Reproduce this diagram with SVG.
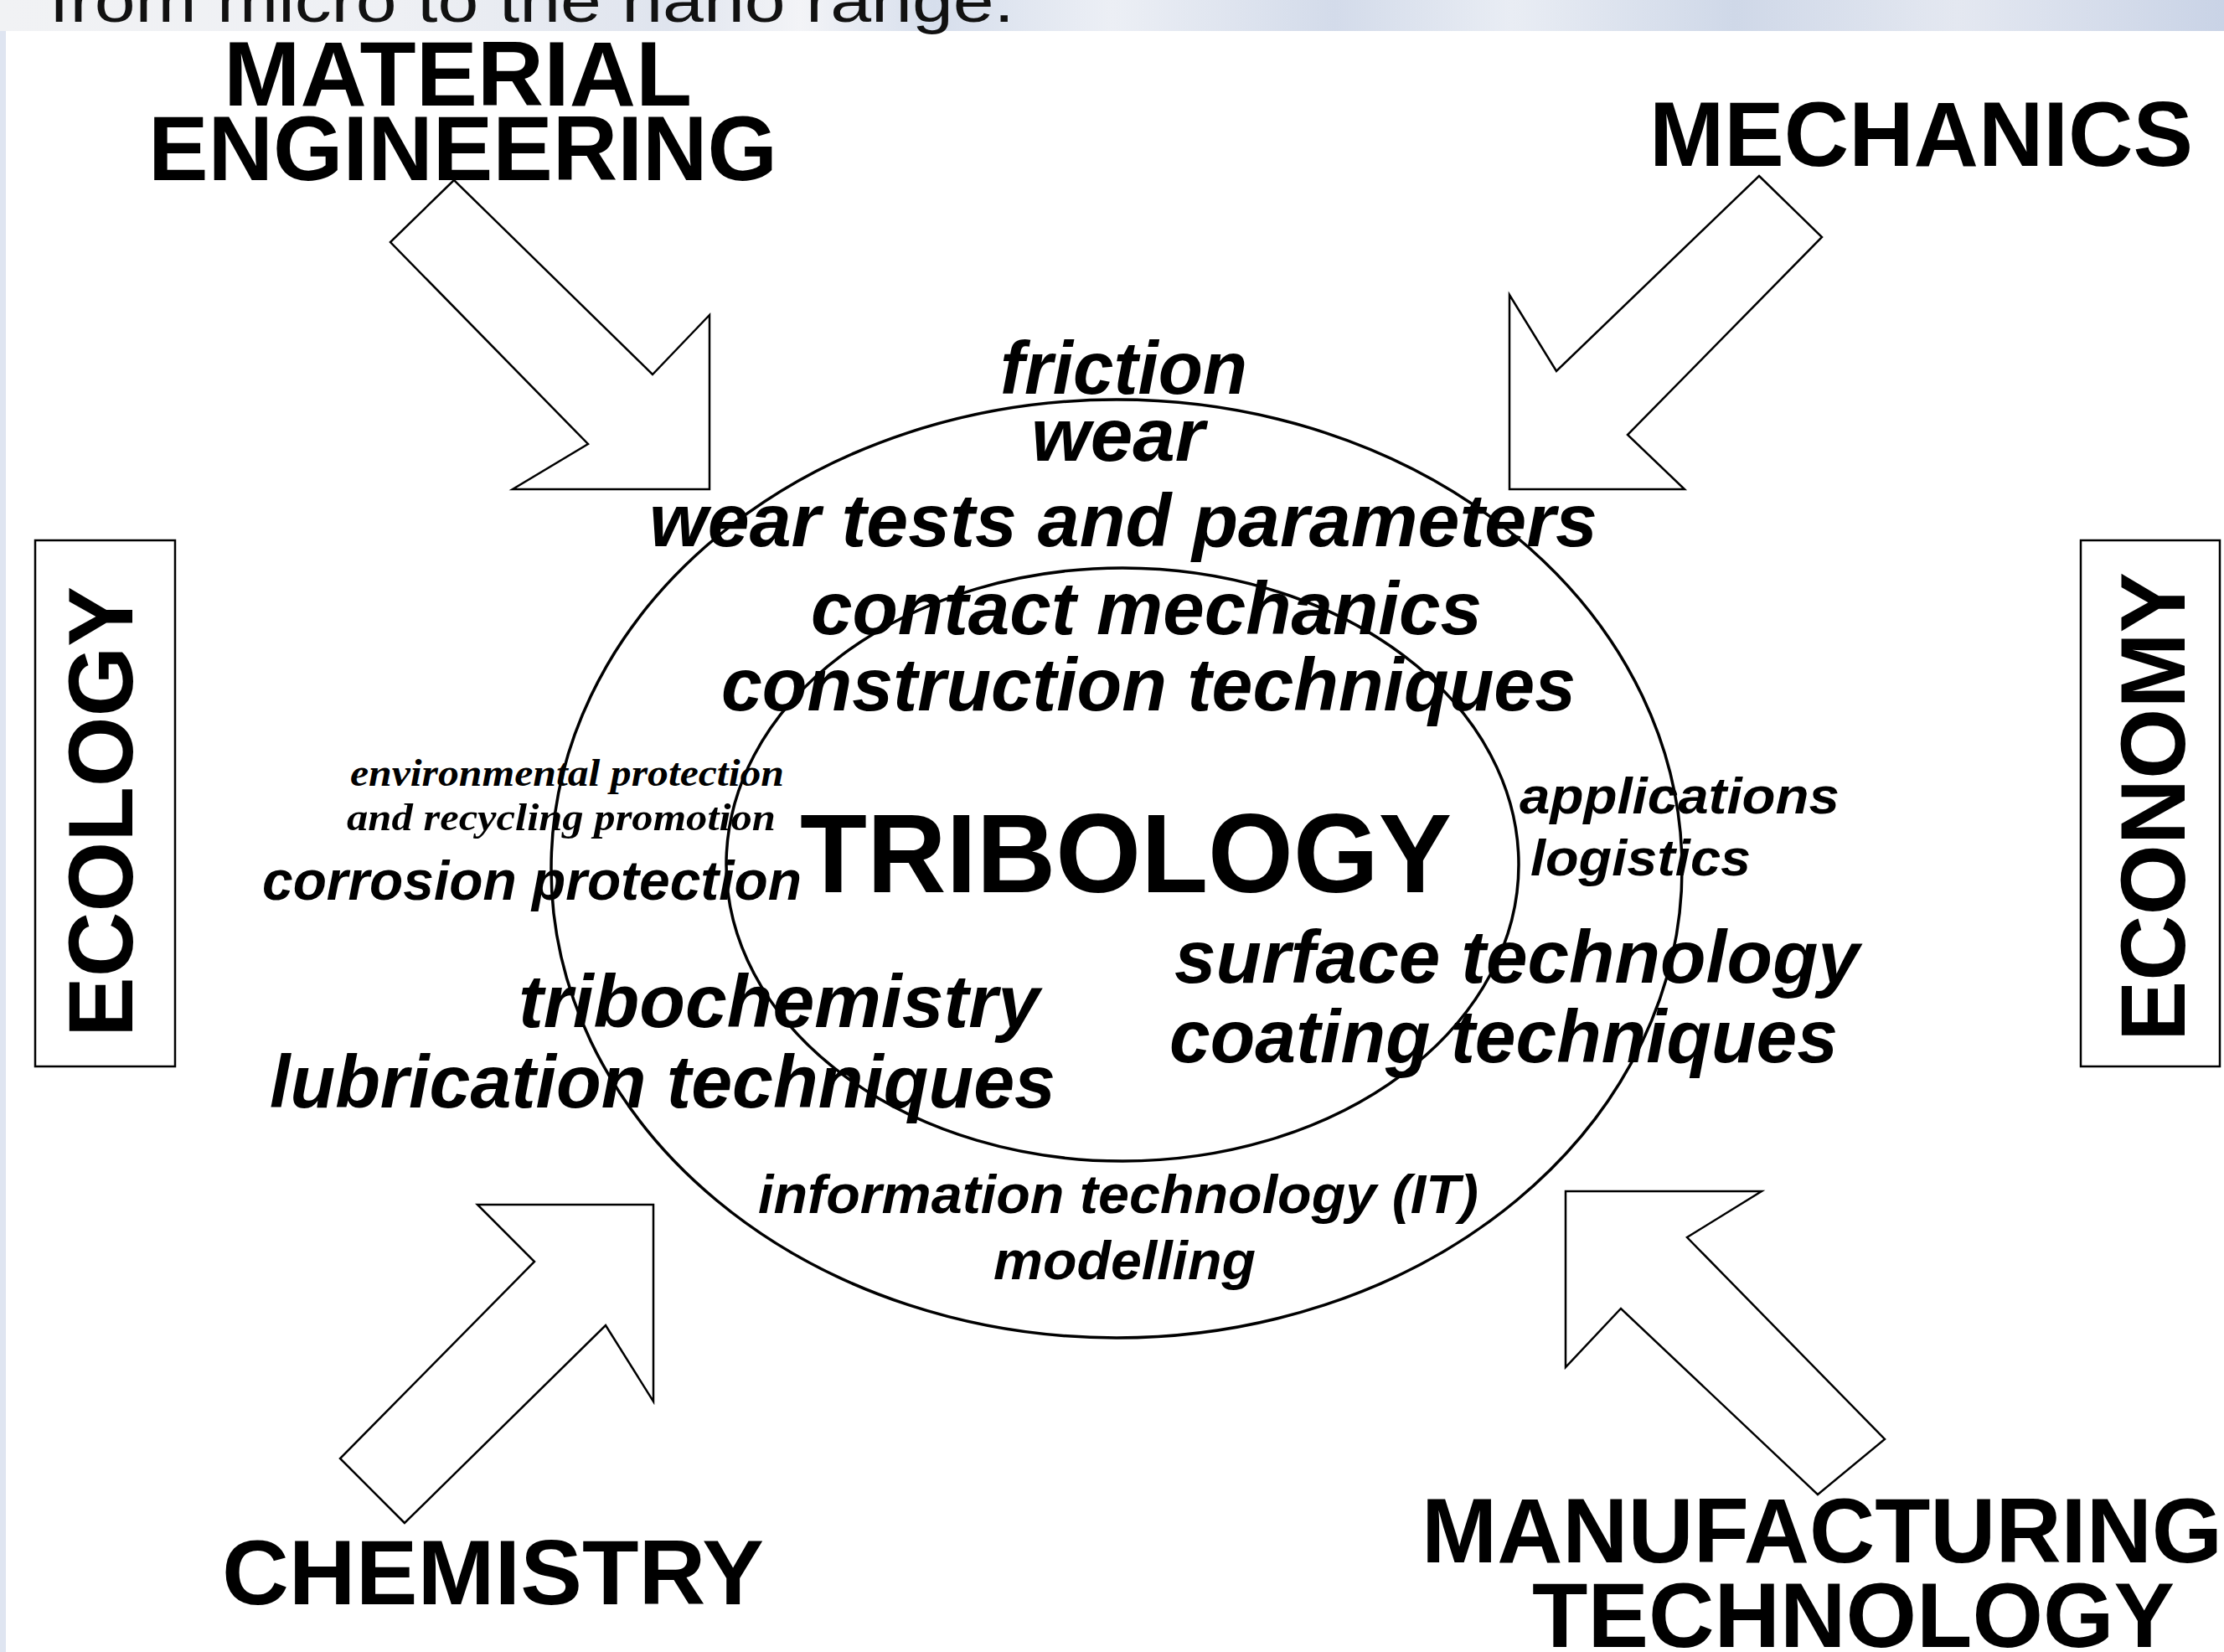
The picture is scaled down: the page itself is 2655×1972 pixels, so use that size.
<svg xmlns="http://www.w3.org/2000/svg" width="2655" height="1972" viewBox="0 0 2655 1972">
  <defs>
    <linearGradient id="banner" x1="0" y1="0" x2="1" y2="0">
      <stop offset="0" stop-color="#f1f2f4"/>
      <stop offset="0.18" stop-color="#eef0f4"/>
      <stop offset="0.3" stop-color="#dfe4ee"/>
      <stop offset="0.36" stop-color="#f3f4f7"/>
      <stop offset="0.42" stop-color="#d6deec"/>
      <stop offset="0.5" stop-color="#eceff5"/>
      <stop offset="0.6" stop-color="#d3dbea"/>
      <stop offset="0.68" stop-color="#e9edf4"/>
      <stop offset="0.78" stop-color="#cfd8e8"/>
      <stop offset="0.88" stop-color="#e4e8f1"/>
      <stop offset="1" stop-color="#c9d3e6"/>
    </linearGradient>
    <style>
      .cap { font-family: "Liberation Sans", Arial, sans-serif; font-weight: bold; font-size: 110px; fill: #000; }
      .it { font-family: "Liberation Sans", Arial, sans-serif; font-weight: bold; font-style: italic; font-size: 89px; fill: #000; }
      .sm { font-family: "Liberation Serif", "Times New Roman", serif; font-weight: bold; font-style: italic; font-size: 46px; fill: #000; }
      .box { fill: #fff; stroke: #000; stroke-width: 2.5; }
      .arrow { fill: #fff; stroke: #000; stroke-width: 2.5; stroke-linejoin: miter; }
      .ring { fill: none; stroke: #000; stroke-width: 3.5; }
      .banner-text { font-family: "Liberation Sans Narrow", "Liberation Sans", Arial, sans-serif; font-size: 72px; fill: #111; }
    </style>
  </defs>

  <rect x="0" y="0" width="2655" height="1972" fill="#ffffff"/>

  <!-- slide banner (cut off) -->
  <g id="banner-strip">
    <rect x="0" y="0" width="2655" height="37" fill="url(#banner)"/>
    <text class="banner-text" x="59" y="26" textLength="1152" lengthAdjust="spacingAndGlyphs">from micro to the nano range.</text>
  </g>
  <rect x="0" y="37" width="7" height="1935" fill="#dfe5f1"/>

  <!-- connectors: block arrows -->
  <g id="connectors">
    <polygon id="arrow-material" class="arrow" points="542,215 466,289 702,530 612,584 847,584 847,376 779,447"/>
    <polygon id="arrow-mechanics" class="arrow" points="2100,210 2175,283 1943,519 2011,584 1802,584 1802,352 1858,443"/>
    <polygon id="arrow-chemistry" class="arrow" points="483,1818 406,1741 638,1506 570,1438 780,1438 780,1673 723,1582"/>
    <polygon id="arrow-manufacturing" class="arrow" points="1869,1422 2103,1422 2014,1477 2250,1718 2170,1784 1935,1562 1869,1632"/>
  </g>

  <!-- central tribology node -->
  <g id="tribology">
    <ellipse class="ring" cx="1333" cy="1037" rx="675" ry="560"/>
    <ellipse class="ring" cx="1340" cy="1032" rx="473" ry="354"/>
    <text class="cap" x="955" y="1065" style="font-size:133px" textLength="778" lengthAdjust="spacingAndGlyphs">TRIBOLOGY</text>
  </g>

  <g id="topics-top">
    <text class="it" x="1194" y="470" textLength="295" lengthAdjust="spacingAndGlyphs">friction</text>
    <text class="it" x="1231" y="550" textLength="207" lengthAdjust="spacingAndGlyphs">wear</text>
    <text class="it" x="775" y="652" textLength="1132" lengthAdjust="spacingAndGlyphs">wear tests and parameters</text>
    <text class="it" x="968" y="757" textLength="801" lengthAdjust="spacingAndGlyphs">contact mechanics</text>
    <text class="it" x="861" y="848" textLength="1020" lengthAdjust="spacingAndGlyphs">construction techniques</text>
  </g>

  <g id="topics-left">
    <text class="sm" x="418" y="938" textLength="518" lengthAdjust="spacingAndGlyphs">environmental protection</text>
    <text class="sm" x="414" y="991" textLength="512" lengthAdjust="spacingAndGlyphs">and recycling promotion</text>
    <text class="it" x="313" y="1074" style="font-size:66px" textLength="644" lengthAdjust="spacingAndGlyphs">corrosion protection</text>
    <text class="it" x="619" y="1226" textLength="622" lengthAdjust="spacingAndGlyphs">tribochemistry</text>
    <text class="it" x="322" y="1322" textLength="938" lengthAdjust="spacingAndGlyphs">lubrication techniques</text>
  </g>

  <g id="topics-right">
    <text class="it" x="1814" y="971" style="font-size:62px" textLength="382" lengthAdjust="spacingAndGlyphs">applications</text>
    <text class="it" x="1827" y="1045" style="font-size:62px" textLength="263" lengthAdjust="spacingAndGlyphs">logistics</text>
    <text class="it" x="1402" y="1173" textLength="818" lengthAdjust="spacingAndGlyphs">surface technology</text>
    <text class="it" x="1396" y="1268" textLength="798" lengthAdjust="spacingAndGlyphs">coating techniques</text>
  </g>

  <g id="topics-bottom">
    <text class="it" x="905" y="1448" style="font-size:64px" textLength="860" lengthAdjust="spacingAndGlyphs">information technology (IT)</text>
    <text class="it" x="1186" y="1527" style="font-size:64px" textLength="313" lengthAdjust="spacingAndGlyphs">modelling</text>
  </g>

  <!-- outer discipline nodes -->
  <g id="material-engineering">
    <text class="cap" x="267" y="126" textLength="559" lengthAdjust="spacingAndGlyphs">MATERIAL</text>
    <text class="cap" x="177" y="215" textLength="751" lengthAdjust="spacingAndGlyphs">ENGINEERING</text>
  </g>

  <g id="mechanics">
    <text class="cap" x="1969" y="198" textLength="649" lengthAdjust="spacingAndGlyphs">MECHANICS</text>
  </g>

  <g id="ecology">
    <rect class="box" x="42" y="645" width="167" height="628"/>
    <text class="cap" transform="translate(158,969) rotate(-90)" x="0" y="0" text-anchor="middle" textLength="538" lengthAdjust="spacingAndGlyphs">ECOLOGY</text>
  </g>

  <g id="economy">
    <rect class="box" x="2484" y="645" width="166" height="628"/>
    <text class="cap" transform="translate(2608,963) rotate(-90)" x="0" y="0" text-anchor="middle" textLength="560" lengthAdjust="spacingAndGlyphs">ECONOMY</text>
  </g>

  <g id="chemistry">
    <text class="cap" x="265" y="1915" textLength="647" lengthAdjust="spacingAndGlyphs">CHEMISTRY</text>
  </g>

  <g id="manufacturing-technology">
    <text class="cap" x="1697" y="1865" textLength="956" lengthAdjust="spacingAndGlyphs">MANUFACTURING</text>
    <text class="cap" x="1829" y="1966" textLength="767" lengthAdjust="spacingAndGlyphs">TECHNOLOGY</text>
  </g>
</svg>
